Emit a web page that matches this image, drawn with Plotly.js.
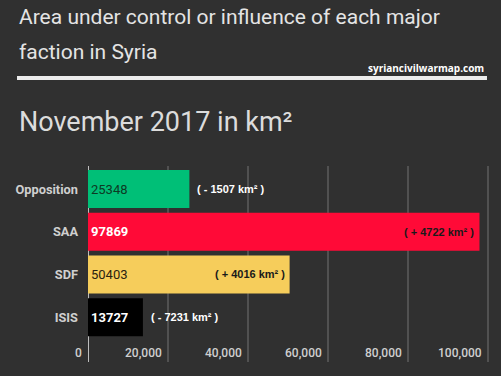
<!DOCTYPE html>
<html>
<head>
<meta charset="utf-8">
<script src="https://cdn.plot.ly/plotly-3.0.1.min.js"></script>
<style>
html,body{margin:0;padding:0;background:#303030;}
#chart{width:501px;height:376px;}
</style>
</head>
<body>
<div id="chart"></div>
<script>
// Data (top-to-bottom order in the picture: Opposition, SAA, SDF, ISIS)
const factions = ['ISIS', 'SDF', 'SAA', 'Opposition'];
const areas = [13727, 50403, 97869, 25348];
const changes = ['( - 7231 km² )', '( + 4016 km² )', '( + 4722 km² )', '( - 1507 km² )'];
const changeInside = [false, true, true, false];
const barColors = ['#000000', '#f6cd5b', '#ff0a37', '#00bf77'];
const labelColors = ['#ffffff', '#2a2210', '#ffffff', '#0d3a24'];
const labelWeights = ['bold', 'normal', 'bold', 'normal'];
const xTickVals = [0, 20000, 40000, 60000, 80000, 100000];
const xTickText = ['0', '20,000', '40,000', '60,000', '80,000', '100,000'];

const titleLine1 = 'Area under control or influence of each major';
const titleLine2 = 'faction in Syria';
const siteText = 'syriancivilwarmap.com';
const subTitle = 'November 2017 in km²';

const bg = '#303030';

const trace = {
  type: 'bar',
  orientation: 'h',
  y: factions,
  x: areas,
  marker: {color: barColors, line: {width: 0}},
  text: areas.map(String),
  textposition: 'inside',
  insidetextanchor: 'start',
  textfont: {family: 'Roboto, sans-serif', size: 13, color: labelColors, weight: labelWeights},
  hoverinfo: 'none',
  cliponaxis: false
};

const annotations = [
  {xref: 'paper', yref: 'paper', x: -0.1766, y: 1.76, xanchor: 'left', yanchor: 'middle',
   text: titleLine1, showarrow: false, font: {family: 'Roboto, sans-serif', size: 21, color: '#e4e4e4'}},
  {xref: 'paper', yref: 'paper', x: -0.1766, y: 1.582, xanchor: 'left', yanchor: 'middle',
   text: titleLine2, showarrow: false, font: {family: 'Roboto, sans-serif', size: 21, color: '#e4e4e4'}},
  {xref: 'paper', yref: 'paper', x: 0.99, y: 1.5, xanchor: 'right', yanchor: 'middle',
   text: siteText, showarrow: false, font: {family: 'Open Sans, sans-serif', size: 10, color: '#ffffff', weight: 'bold'}},
  {xref: 'paper', yref: 'paper', x: -0.1766, y: 1.2245, xanchor: 'left', yanchor: 'middle',
   text: subTitle, showarrow: false, font: {family: 'Roboto, sans-serif', size: 27, color: '#dcdcdc'}}
];

factions.forEach((f, i) => {
  const inside = changeInside[i];
  annotations.push({
    xref: 'x', yref: 'y', x: areas[i], y: f,
    xanchor: inside ? 'right' : 'left', yanchor: 'middle',
    xshift: inside ? -3 : 6,
    text: changes[i], showarrow: false,
    font: {family: 'Liberation Sans, Arial, sans-serif', size: 11,
           color: inside ? '#1a1a1a' : '#ffffff', weight: 'bold'}
  });
});

// x tick labels, right-aligned just left of each gridline
xTickVals.forEach((v, i) => {
  annotations.push({
    xref: 'x', yref: 'paper', x: v, y: 0,
    xanchor: 'right', yanchor: 'middle', xshift: -4, yshift: 9,
    text: xTickText[i], showarrow: false,
    font: {family: 'Roboto, sans-serif', size: 12, color: '#cfcfcf', weight: 500}
  });
});

const shapes = [
  {type: 'line', xref: 'paper', yref: 'paper', x0: -0.1766, x1: 0.9925, y0: 1.449, y1: 1.449,
   line: {color: '#ececec', width: 4}}
];
xTickVals.forEach(v => {
  shapes.push({
    type: 'line', xref: 'x', yref: 'paper', x0: v, x1: v, y0: 0, y1: 1, layer: 'below',
    line: v === 0 ? {color: '#bdbdbd', width: 2} : {color: '#727272', width: 1}
  });
});

const layout = {
  width: 501, height: 376,
  paper_bgcolor: bg, plot_bgcolor: 'rgba(0,0,0,0)',
  margin: {l: 88, r: 11, t: 166, b: 14, pad: 0},
  showlegend: false,
  bargap: 0.11,
  xaxis: {
    range: [0, 100500],
    showticklabels: false,
    showgrid: false, zeroline: false, showline: false, ticks: '',
    fixedrange: true
  },
  yaxis: {
    type: 'category',
    range: [-1.05, 3.54],
    showgrid: false, zeroline: false, showline: false,
    ticks: '', ticklabelstandoff: 9,
    tickfont: {family: 'Roboto, sans-serif', size: 12.8, color: '#cfcfcf', weight: 'bold'},
    fixedrange: true
  },
  annotations: annotations,
  shapes: shapes
};

Plotly.newPlot('chart', [trace], layout, {displayModeBar: false, staticPlot: true});
</script>
</body>
</html>
